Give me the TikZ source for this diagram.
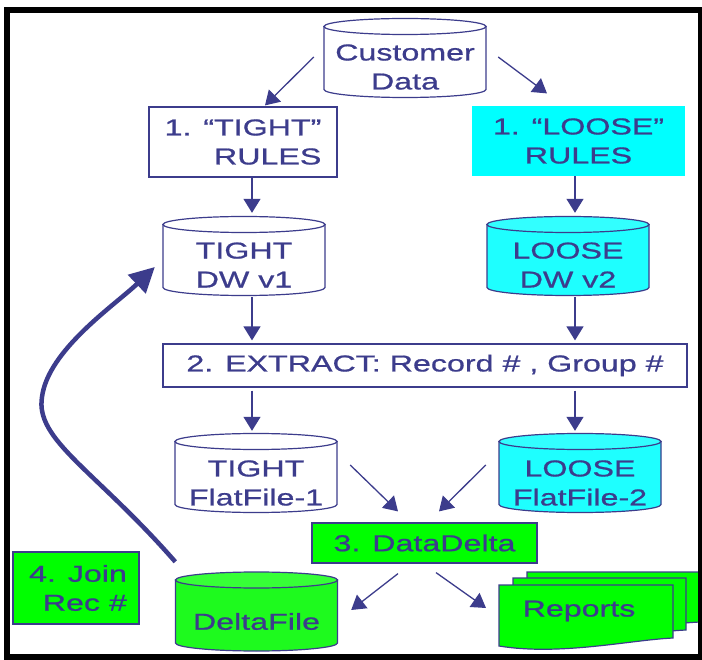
\documentclass[tikz,border=0pt]{standalone}
\usepackage{fontspec}
\setmainfont[FakeStretch=1.4,FakeBold=0.8]{Liberation Sans}
\usetikzlibrary{arrows.meta}
\definecolor{ln}{RGB}{60,60,140}
\definecolor{cyanb}{RGB}{0,255,255}
\definecolor{cyanc}{RGB}{30,255,255}
\definecolor{cyant}{RGB}{50,255,255}
\definecolor{grn}{RGB}{0,255,0}
\definecolor{grnc}{RGB}{30,250,30}
\definecolor{grnt}{RGB}{55,255,55}
\newcommand\cylshape[3]{%
  \begin{scope}[shift={(#1.center)}]
    \path[draw=ln, line width=1.2pt, fill=#2] (-81,-31.5) -- (-81,31.5)
      arc[start angle=180, end angle=0, x radius=81, y radius=8] -- (81,-31.5) -- cycle;
    \path[draw=ln, line width=1.2pt, fill=#3] (0,-31.5) ellipse[x radius=81, y radius=8];
  \end{scope}}
\tikzset{
  cylnode/.style={minimum width=162pt, minimum height=79pt, inner sep=0pt},
  txt/.style={text=ln, align=center, inner sep=0pt, font=\fontsize{23}{29}\selectfont},
  rbox/.style={draw=ln, line width=1.2pt, text=ln, align=center, inner sep=0pt, font=\fontsize{23}{29}\selectfont},
  arr/.style={draw=ln, line width=1.3pt, -{Triangle[length=14pt,width=17pt]}},
  bigarr/.style={draw=ln, line width=4.5pt, -{Triangle[length=25pt,width=25pt]}},
  sheet/.style={draw=ln, line width=1.2pt, fill=grn}
}
\begin{document}
\begin{tikzpicture}[x=1pt, y=-1pt]
\useasboundingbox (0,0) rectangle (702,660);
\fill[white] (0,0) rectangle (702,660);

% cylinder placeholders
\node[cylnode] (cd) at (405,58) {};
\node[cylnode] (dw1) at (244,256) {};
\node[cylnode] (dw2) at (568,256) {};
\node[cylnode] (ff1) at (256,473) {};
\node[cylnode] (ff2) at (580,473) {};
\node[cylnode] (df) at (256.5,611.5) {};

\cylshape{cd}{white}{white}
\cylshape{dw1}{white}{white}
\cylshape{dw2}{cyanc}{cyant}
\cylshape{ff1}{white}{white}
\cylshape{ff2}{cyanc}{cyant}
\cylshape{df}{grnc}{grnt}

\node[txt] (cdt) at ([shift={(0,9)}]cd.center) {Customer\\Data};
\node[txt] (dw1t) at ([shift={(0,9)}]dw1.center) {TIGHT\\DW v1};
\node[txt] (dw2t) at ([shift={(0,9)}]dw2.center) {LOOSE\\DW v2};
\node[txt] (ff1t) at ([shift={(0,10)}]ff1.center) {TIGHT\\FlatFile-1};
\node[txt] (ff2t) at ([shift={(0,10)}]ff2.center) {LOOSE\\FlatFile-2};
\node[txt] (dft) at ([shift={(0,10)}]df.center) {DeltaFile};

% boxes
\node[rbox, minimum width=188pt, minimum height=70pt, fill=white] (tr) at (243,142) {};
\node[txt, align=right] (trt) at (tr.center) {1. “TIGHT”\\RULES};
\node[rbox, draw=cyanb, fill=cyanb, minimum width=211pt, minimum height=69pt] (lr) at (578.5,141) {1. “LOOSE”\\RULES};
\node[rbox, minimum width=524pt, minimum height=43pt] (ex) at (425,365.5) {2. EXTRACT: Record \# , Group \#};
\node[rbox, fill=grn, minimum width=225pt, minimum height=40pt] (dd) at (424.5,543) {3. DataDelta};
\node[rbox, fill=grn, minimum width=126pt, minimum height=72pt] (jn) at (76,588) {};
\node[txt, align=right] (jnt) at ([shift={(2,0)}]jn.center) {4. Join\\Rec \#};

% reports stack
\path[sheet] (527,572) -- (700,572) -- (700,622) .. controls (655,624) and (590,637) .. (527,632) -- cycle;
\path[sheet] (513,578) -- (686,578) -- (686,630) .. controls (641,632) and (576,646) .. (513,640) -- cycle;
\path[sheet] (499,585) -- (673,585) -- (673,638) .. controls (630,640) and (560,656) .. (499,646) -- cycle;
\node[txt] (rep) at (579,611) {Reports};

% connectors
\draw[arr] ([shift={(-10,-1)}]cd.west) -- ([shift={(22,-1)}]tr.north);
\draw[arr] ([shift={(12,-1)}]cd.east) -- ([shift={(-31.5,-12.5)}]lr.north);
\draw[arr] ([shift={(9,0)}]tr.south) -- ([shift={(8,-3.5)}]dw1.north);
\draw[arr] ([shift={(-3.5,0)}]lr.south) -- ([shift={(7,-3.5)}]dw2.north);
\draw[arr] ([shift={(8,1.5)}]dw1.south) -- ([shift={(-173,-3)}]ex.north);
\draw[arr] ([shift={(7,1.5)}]dw2.south) -- ([shift={(150,-3)}]ex.north);
\draw[arr] ([shift={(-173,3)}]ex.south) -- ([shift={(-4,-2.5)}]ff1.north);
\draw[arr] ([shift={(150,3)}]ex.south) -- ([shift={(-5,-2.5)}]ff2.north);
\draw[arr] ([shift={(13,-8)}]ff1.east) -- ([shift={(-26.5,-11)}]dd.north);
\draw[arr] ([shift={(-13,-8)}]ff2.west) -- ([shift={(14.5,-11)}]dd.north);
\draw[arr] ([shift={(-26.5,10)}]dd.south) -- ([shift={(13.5,-1.5)}]df.east);
\draw[arr] ([shift={(11.5,9)}]dd.south) -- ([shift={(-93,-3)}]rep.center);

% big return arrow
\coordinate (bend) at (42,397);
\draw[bigarr] ([shift={(0,-10)}]df.north west) .. controls (95,470) and (35,440) .. (bend)
  .. controls (48,350) and (115,305) .. ([shift={(-8,11)}]dw1.west);

% frame
\draw[black, line width=6pt] (7,10) rectangle (700.5,656.5);
\end{tikzpicture}
\end{document}
